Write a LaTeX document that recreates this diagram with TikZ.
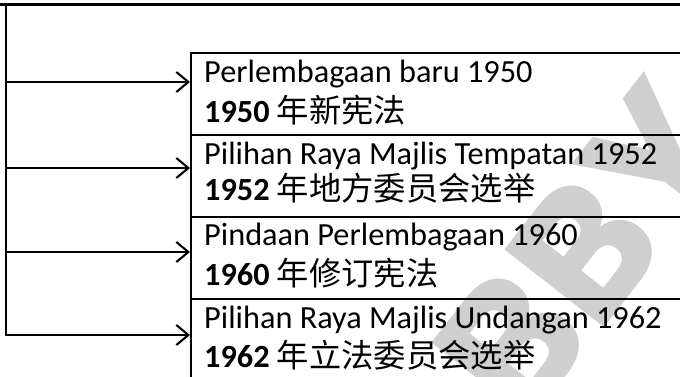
\documentclass[tikz,border=0pt]{standalone}
\usepackage{fontspec}
\setmainfont{Carlito}
\newfontfamily\cjk{Noto Sans CJK SC}
\newfontfamily\wmfont{Poppins}
\usetikzlibrary{arrows.meta}
\tikzset{
  ln/.style={line width=2.1pt, black},
  arr/.style={ln, -{Straight Barb[length=12pt,width=20pt]}},
  rowbox/.style={draw, ln, rectangle, anchor=north west, minimum width=520pt, inner sep=0pt},
  lbl/.style={anchor=base west, inner sep=0pt, font=\fontsize{32.3}{32}\selectfont},
  wm/.style={text=black!19, font=\wmfont\bfseries\fontsize{180}{180}\selectfont, inner sep=0pt}
}
\begin{document}
\begin{tikzpicture}[x=1pt,y=-1pt]
\useasboundingbox (0,0) rectangle (680,376);
\clip (0,0) rectangle (680,376);
% watermark
\node[wm, rotate=52] (wmark) at (585,250) {BBY};
% boxes
\node[rowbox, minimum height=82pt] (b1) at (190,51.5) {};
\node[rowbox, minimum height=82pt] (b2) at (190,133.5) {};
\node[rowbox, minimum height=82pt] (b3) at (190,215.5) {};
\node[rowbox, minimum height=100pt] (b4) at (190,297.5) {};
% texts
\node[lbl] (t1a) at (204,82) {Perlembagaan baru 1950};
\node[lbl] (t1b) at (204,122) {\textbf{1950} {\cjk 年新宪法}};
\node[lbl] (t2a) at (204,164) {Pilihan Raya Majlis Tempatan 1952};
\node[lbl] (t2b) at (204,200) {\textbf{1952} {\cjk 年地方委员会选举}};
\node[lbl] (t3a) at (204,245) {Pindaan Perlembagaan 1960};
\node[lbl] (t3b) at (204,285) {\textbf{1960} {\cjk 年修订宪法}};
\node[lbl] (t4a) at (204,328) {Pilihan Raya Majlis Undangan 1962};
\node[lbl] (t4b) at (204,367) {\textbf{1962} {\cjk 年立法委员会选举}};
% top line and trunk
\coordinate (tl) at (0,4.5);
\coordinate (tr) at (680,4.5);
\coordinate (vt) at (6,4.5);
\coordinate (s1) at (6,82);
\coordinate (s2) at (6,168);
\coordinate (s3) at (6,252);
\coordinate (s4) at (6,335);
\draw[ln] (tl) -- (tr);
\draw[arr] (vt) -- (s4) -- (s4 -| b4.west);
\draw[arr] (s1) -- (s1 -| b1.west);
\draw[arr] (s2) -- (s2 -| b2.west);
\draw[arr] (s3) -- (s3 -| b3.west);
\end{tikzpicture}
\end{document}
